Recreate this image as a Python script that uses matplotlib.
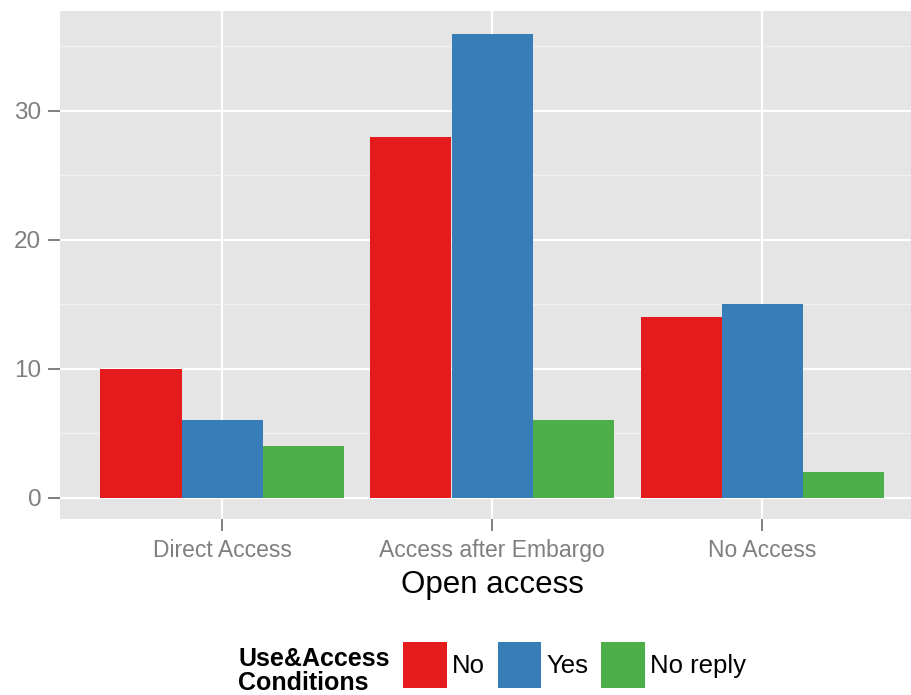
import matplotlib
matplotlib.use("Agg")
import matplotlib.pyplot as plt
import numpy as np
from matplotlib.patches import Patch

categories = ["Direct Access", "Access after Embargo", "No Access"]
series_names = ["No", "Yes", "No reply"]
values_no = [10, 28, 14]
values_yes = [6, 36, 15]
values_noreply = [4, 6, 2]
colors = ["#E41A1C", "#377EB8", "#4DAF4A"]
y_ticks = [0, 10, 20, 30]

plt.rcParams['font.family'] = ['Liberation Sans', 'DejaVu Sans']

W, H = 911, 695
fig = plt.figure(figsize=(W / 100, H / 100), dpi=100)
ax = fig.add_axes([60 / W, 176 / H, 864 / W, 508 / H])
ax.set_facecolor("#E5E5E5")

x = np.arange(1, len(categories) + 1)
bw = 0.3
for i, (vals, c, name) in enumerate(zip([values_no, values_yes, values_noreply], colors, series_names)):
    ax.bar(x + (i - 1) * bw, vals, width=bw, color=c, linewidth=0, label=name, zorder=3)

ax.set_xlim(0.4, 3.6)
ax.set_ylim(-1.65, 37.75)
ax.set_xticks(x)
ax.set_xticklabels(categories)
ax.set_yticks(y_ticks)
ax.set_yticks([5, 15, 25, 35], minor=True)
ax.grid(which="major", color="white", linewidth=1.6, zorder=1)
ax.grid(which="minor", axis="y", color="#F2F2F2", linewidth=0.8, zorder=1)
ax.tick_params(axis="both", which="major", colors="#7F7F7F", labelcolor="#7F7F7F",
               length=8.5, width=1.4, labelsize=16.5)
ax.tick_params(axis="y", which="major", pad=5, labelsize=17.5)
ax.tick_params(axis="x", which="major", pad=6)
ax.tick_params(which="minor", length=0)
for s in ax.spines.values():
    s.set_visible(False)
ax.set_axisbelow(True)

ax.set_xlabel("Open access", fontsize=22.5, color="black", labelpad=6)

fig.text(238 / W, 1 - 671 / H, "Use&Access\nConditions", fontsize=18, fontweight="bold",
         ha="left", va="center", linespacing=1.05)
handles = [Patch(facecolor=c, edgecolor="none") for c in colors]
fig.legend(handles, series_names, loc="center left", bbox_to_anchor=(403 / W, 1 - 665 / H),
           ncol=3, frameon=False, fontsize=18.5, handlelength=1.7, handleheight=2.38,
           handletextpad=0.2, columnspacing=0.5, borderpad=0, borderaxespad=0)

fig.savefig("out.png", dpi=100)
